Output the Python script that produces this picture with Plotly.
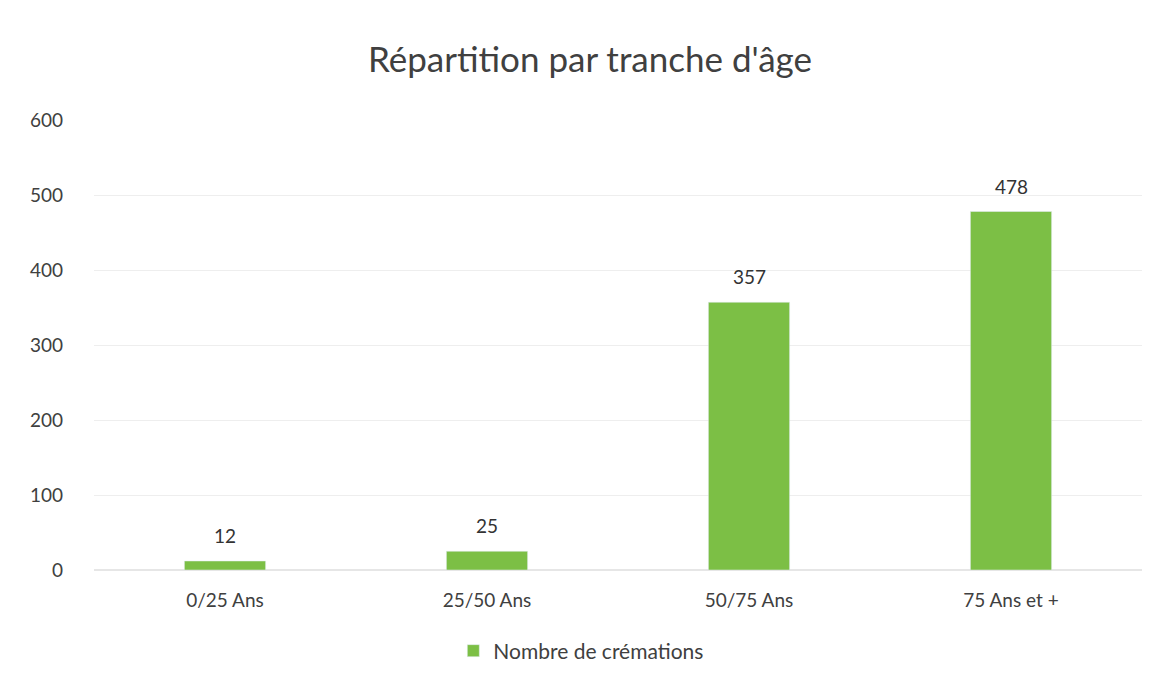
import plotly.graph_objects as go

# === Chart data
categories = ["0/25 Ans", "25/50 Ans", "50/75 Ans", "75 Ans et +"]
cremations = [12, 25, 357, 478]
y_ticks = [0, 100, 200, 300, 400, 500, 600]

green = "#7cbf45"
font_family = "Lato, 'Open Sans', sans-serif"

fig = go.Figure(
    go.Bar(
        x=categories,
        y=cremations,
        name="Nombre de crémations",
        marker_color=green,
        width=0.31,
    )
)

# value labels, a bit higher above the bars than plotly's default "outside"
for cat, val in zip(categories, cremations):
    fig.add_annotation(
        x=cat, y=val, text=str(val),
        showarrow=False, yanchor="bottom", yshift=12,
        font=dict(size=19, color="#333333"),
    )

fig.update_layout(
    title=dict(
        text="Répartition par tranche d'âge",
        x=0.503, xanchor="center",
        y=0.925, yanchor="middle",
        font=dict(size=35, color="#404040", family=font_family),
    ),
    font=dict(family=font_family, size=19, color="#404040"),
    width=1157, height=687,
    margin=dict(l=86, r=23, t=112, b=125, autoexpand=False),
    paper_bgcolor="white",
    plot_bgcolor="white",
    showlegend=True,
    legend=dict(
        orientation="h",
        x=0.465, xanchor="center",
        y=-0.18, yanchor="middle",
        font=dict(size=21, color="#404040"),
        itemwidth=30,
    ),
)

fig.update_yaxes(
    range=[0, 600],
    tickvals=y_ticks,
    showgrid=True,
    gridcolor="#eeeeee",
    zeroline=True,
    zerolinecolor="#e6e6e6",
    ticks="",
    ticklabelstandoff=30,
    showline=False,
)
fig.update_xaxes(
    showgrid=False,
    ticks="",
    ticklabelstandoff=17,
    showline=False,
)

fig.write_html("out.html")
